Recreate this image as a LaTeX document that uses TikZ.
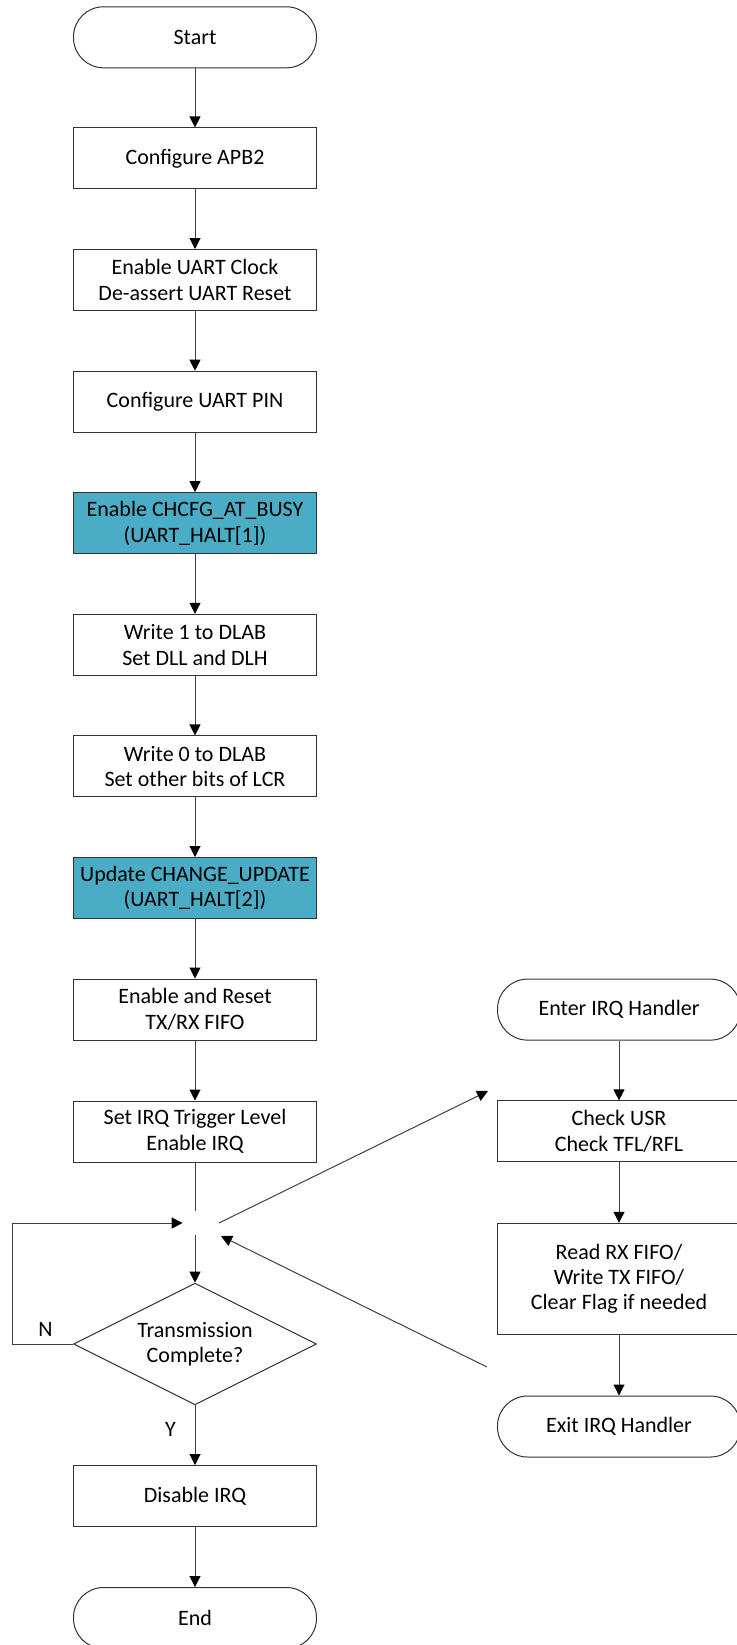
\documentclass[tikz,border=0pt]{standalone}
\usepackage{fontspec}
\setmainfont{Carlito}
\usetikzlibrary{arrows.meta, positioning, shapes.geometric}
\definecolor{halt}{HTML}{4BACC6}

\begin{document}
\begin{tikzpicture}[x=0.5pt, y=-0.5pt,
    every node/.style={font=\fontsize{11pt}{12.7pt}\selectfont},
    term/.style={draw=black!80, line width=0.5pt, rounded corners=15pt, minimum width=121.5pt, minimum height=30.5pt, align=center},
    proc/.style={draw=black!80, line width=0.5pt, fill=#1, minimum width=121.5pt, minimum height=30.5pt, align=center},
    proc/.default=white,
    decision/.style={draw=black!80, line width=0.5pt, diamond, aspect=2, minimum width=121.5pt, minimum height=60.8pt, inner sep=0pt, align=center},
    arrow/.style={-{Triangle[length=5.5pt, width=5.5pt, color=black]}, draw=black!75, line width=0.5pt},
    line/.style={draw=black!75, line width=0.5pt},
]
\useasboundingbox (0,0) rectangle (736,1645);

% main flow
\node[term] (start) at (195, 37.3) {Start};
\node[proc] (apb) at (195, 158.4) {Configure APB2};
\node[proc] (clk) at (195, 280) {Enable UART Clock\\De-assert UART Reset};
\node[proc] (pin) at (195, 401.7) {Configure UART PIN};
\node[proc=halt] (busy) at (195, 523.2) {Enable CHCFG\_AT\_BUSY\\(UART\_HALT[1])};
\node[proc] (dlab1) at (195, 644.8) {Write 1 to DLAB\\Set DLL and DLH};
\node[proc] (dlab0) at (195, 766.4) {Write 0 to DLAB\\Set other bits of LCR};
\node[proc=halt] (upd) at (195, 888) {Update CHANGE\_UPDATE\\(UART\_HALT[2])};
\node[proc] (fifo) at (195, 1009.5) {Enable and Reset\\TX/RX FIFO};
\node[proc] (irq) at (195, 1131.5) {Set IRQ Trigger Level\\Enable IRQ};
\node[circle, inner sep=0pt, minimum size=12pt] (junc) at (195, 1223) {};
\node[decision] (done) at (195, 1344) {Transmission\\Complete?};
\node[proc] (dis) at (195, 1496) {Disable IRQ};
\node[term] (end) at (195, 1618) {End};

\draw[arrow] (start) -- (apb);
\draw[arrow] (apb) -- (clk);
\draw[arrow] (clk) -- (pin);
\draw[arrow] (pin) -- (busy);
\draw[arrow] (busy) -- (dlab1);
\draw[arrow] (dlab1) -- (dlab0);
\draw[arrow] (dlab0) -- (upd);
\draw[arrow] (upd) -- (fifo);
\draw[arrow] (fifo) -- (irq);
\draw[line] (irq) -- (junc);
\draw[arrow] (junc) -- (done);
\draw[arrow] (done.west) -- node[above, pos=0.45] {N} ++(-61,0) |- (junc);
\draw[arrow] (done) -- node[left, pos=0.4, xshift=-6pt] {Y} (dis);
\draw[arrow] (dis) -- (end);

% irq handler
\node[term] (enter) at (619, 1009.6) {Enter IRQ Handler};
\node[proc] (chk) at (619, 1131.4) {Check USR\\Check TFL/RFL};
\node[proc, minimum height=55.5pt] (rw) at (619, 1278.8) {Read RX FIFO/\\Write TX FIFO/\\Clear Flag if needed};
\node[term] (exit) at (619, 1426.5) {Exit IRQ Handler};

\draw[arrow] (enter) -- (chk);
\draw[arrow] (chk) -- (rw);
\draw[arrow] (rw) -- (exit);

\coordinate (jout) at (219, 1223);
\coordinate (jin) at (221, 1236);
\coordinate (hin) at (488, 1091);
\coordinate (hout) at (487, 1367);
\draw[arrow] (jout) -- (hin);
\draw[arrow] (hout) -- (jin);

\end{tikzpicture}
\end{document}
